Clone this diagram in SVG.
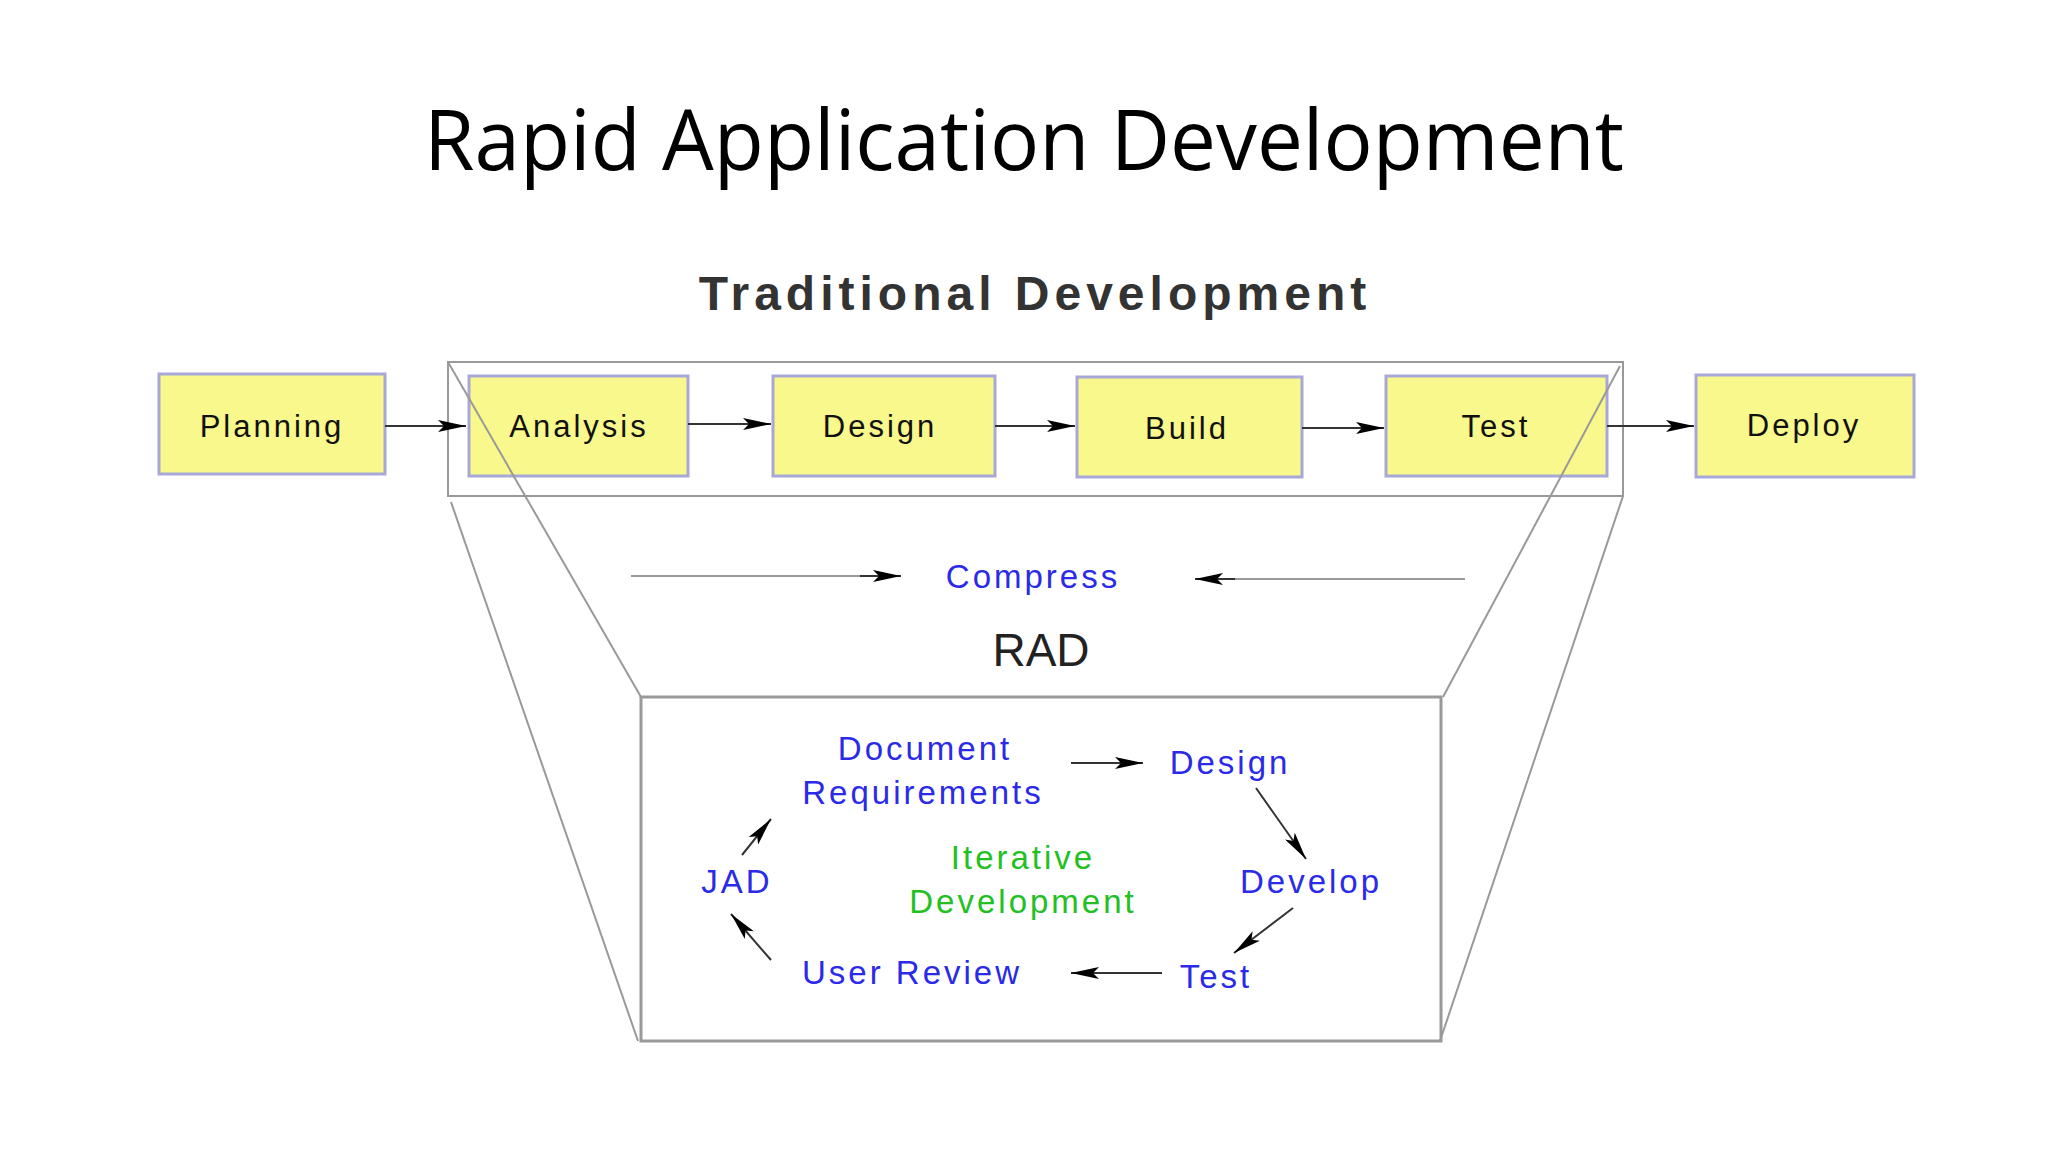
<svg xmlns="http://www.w3.org/2000/svg" width="2048" height="1152" viewBox="0 0 2048 1152">
<defs>
<style>
.box{fill:#f8f88c;stroke:#a8a8d8;stroke-width:3}
.bt{font-family:"Liberation Sans",Arial,sans-serif;font-size:31px;fill:#111;text-anchor:middle;letter-spacing:3px}
.bl{font-family:"Liberation Sans",Arial,sans-serif;font-size:33px;fill:#2a2ae8;text-anchor:middle;letter-spacing:3px}
.gr{font-family:"Liberation Sans",Arial,sans-serif;font-size:33px;fill:#22c022;text-anchor:middle;letter-spacing:3px}
.ln{stroke:#999;stroke-width:2;fill:none}
.ar{stroke:#333;stroke-width:2;fill:none;marker-end:url(#ah)}
</style>
<marker id="ah" viewBox="0 0 28 12" refX="28" refY="6" markerWidth="28" markerHeight="12" markerUnits="userSpaceOnUse" orient="auto">
<path d="M0,0 L28,6 L0,12 L6,6 Z" fill="#000"/>
</marker>
</defs>
<rect width="2048" height="1152" fill="#fff"/>
<text x="1024" y="170" font-family="'Open Sans','Liberation Sans',sans-serif" font-size="84" text-anchor="middle" fill="#000" textLength="1200" lengthAdjust="spacingAndGlyphs">Rapid Application Development</text>
<text x="1035" y="310" font-family="'Liberation Sans',Arial,sans-serif" font-size="48" font-weight="bold" text-anchor="middle" fill="#333" letter-spacing="5">Traditional Development</text>
<g id="planning"><rect class="box" x="159" y="374" width="226" height="100"/><text class="bt" x="272" y="437">Planning</text></g>
<g id="analysis"><rect class="box" x="469" y="376" width="219" height="100"/><text class="bt" x="579" y="437">Analysis</text></g>
<g id="design"><rect class="box" x="773" y="376" width="222" height="100"/><text class="bt" x="880" y="437">Design</text></g>
<g id="build"><rect class="box" x="1077" y="377" width="225" height="100"/><text class="bt" x="1187" y="439">Build</text></g>
<g id="test"><rect class="box" x="1386" y="376" width="221" height="100"/><text class="bt" x="1496" y="437">Test</text></g>
<g id="deploy"><rect class="box" x="1696" y="375" width="218" height="102"/><text class="bt" x="1804" y="436">Deploy</text></g>
<g id="frame">
<rect x="448" y="362" width="1175" height="134" class="ln"/>
<line x1="448" y1="362" x2="641" y2="697" class="ln"/>
<line x1="451" y1="502" x2="638" y2="1041" class="ln"/>
<line x1="1620" y1="366" x2="1443" y2="697" class="ln"/>
<line x1="1623" y1="496" x2="1440" y2="1041" class="ln"/>
<rect x="641" y="697" width="800" height="344" fill="none" stroke="#999" stroke-width="3"/>
</g>
<g id="compress"><text class="bl" x="1033" y="588">Compress</text></g>
<g id="rad"><text x="1041" y="666" font-family="'Liberation Sans',Arial,sans-serif" font-size="46" text-anchor="middle" fill="#222">RAD</text></g>
<g id="doc"><text class="bl" x="925" y="760">Document</text><text class="bl" x="923" y="804">Requirements</text></g>
<g id="rdesign"><text class="bl" x="1230" y="774">Design</text></g>
<g id="develop"><text class="bl" x="1311" y="893">Develop</text></g>
<g id="rtest"><text class="bl" x="1216" y="988">Test</text></g>
<g id="review"><text class="bl" x="912" y="984">User Review</text></g>
<g id="jad"><text class="bl" x="737" y="893">JAD</text></g>
<g id="iter"><text class="gr" x="1023" y="869">Iterative</text><text class="gr" x="1023" y="913">Development</text></g>
<g id="connectors">
<line class="ar" x1="385" y1="426" x2="466" y2="426"/>
<line class="ar" x1="688" y1="424" x2="771" y2="424"/>
<line class="ar" x1="995" y1="426" x2="1075" y2="426"/>
<line class="ar" x1="1302" y1="428" x2="1384" y2="428"/>
<line class="ar" x1="1607" y1="426" x2="1694" y2="426"/>
<line class="ln" x1="631" y1="576" x2="870" y2="576"/>
<line class="ar" x1="860" y1="576" x2="901" y2="576" stroke-width="1"/>
<line class="ln" x1="1465" y1="579" x2="1225" y2="579"/>
<line class="ar" x1="1235" y1="579" x2="1195" y2="579" stroke-width="1"/>
<line class="ar" x1="1071" y1="763" x2="1143" y2="763"/>
<line class="ar" x1="1256" y1="788" x2="1306" y2="859"/>
<line class="ar" x1="1293" y1="908" x2="1234" y2="953"/>
<line class="ar" x1="1162" y1="973" x2="1071" y2="973"/>
<line class="ar" x1="771" y1="960" x2="731" y2="914"/>
<line class="ar" x1="742" y1="855" x2="771" y2="819"/>
</g>
</svg>
